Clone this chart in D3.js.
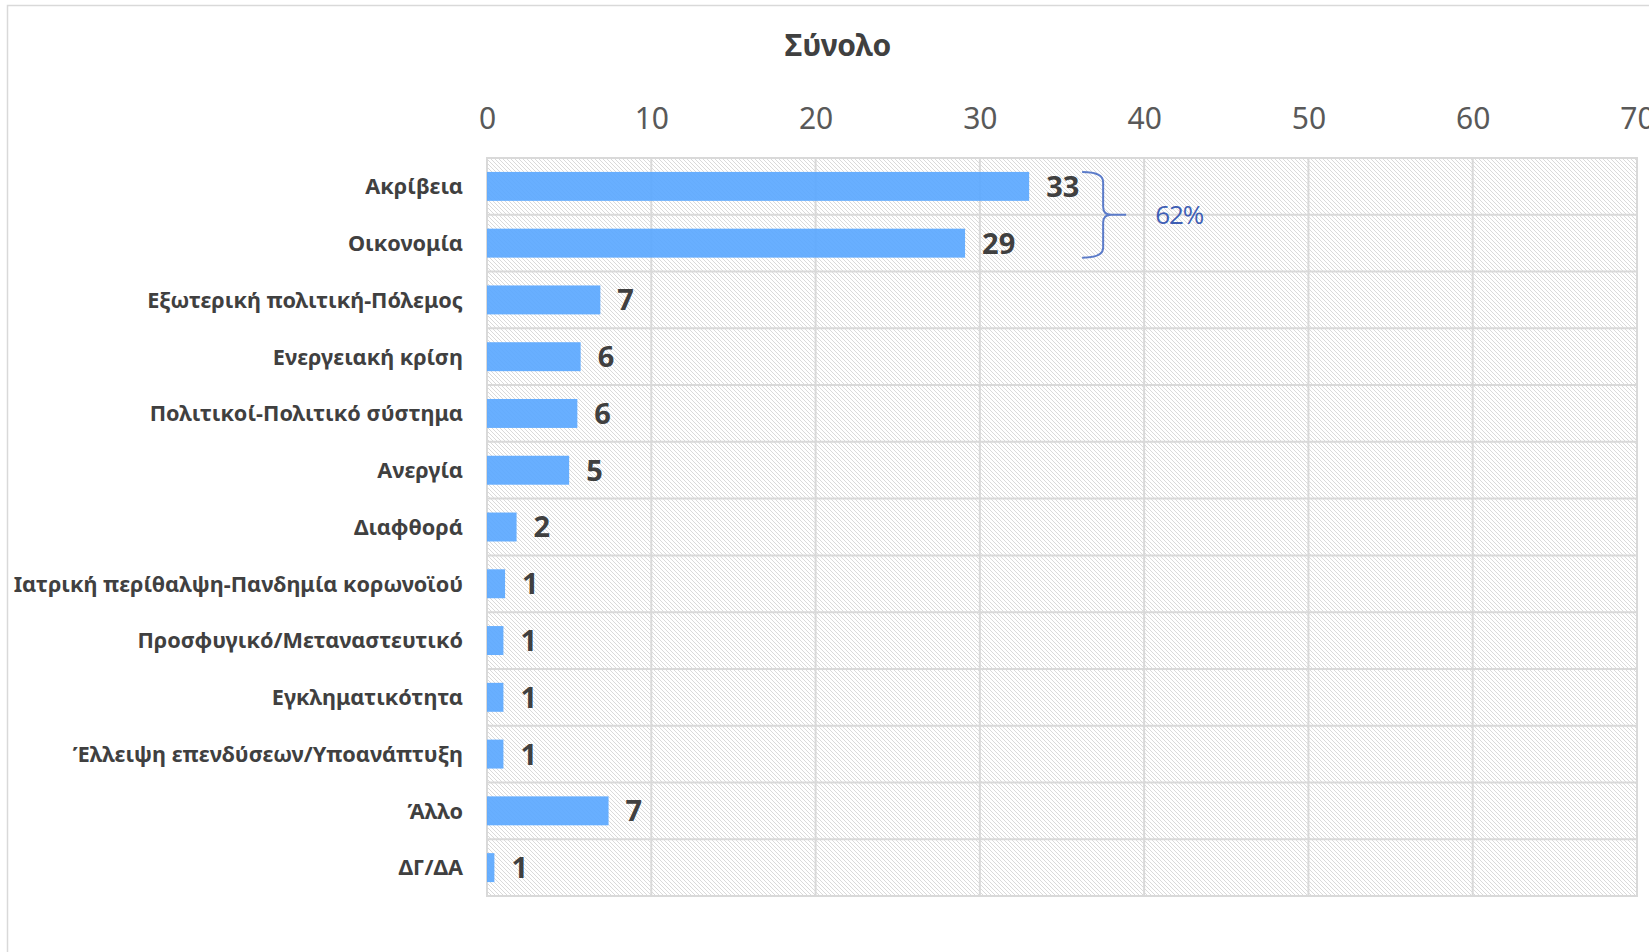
<!DOCTYPE html>
<html><head><meta charset="utf-8">
<script src="https://cdn.jsdelivr.net/npm/d3@7"></script>
<style>html,body{margin:0;padding:0;background:#fff;overflow:hidden}</style>
</head><body>
<svg id="chart" width="1649" height="952"></svg>
<script>
const title = "Σύνολο";
const categories = ["Ακρίβεια","Οικονομία","Εξωτερική πολιτική-Πόλεμος","Ενεργειακή κρίση","Πολιτικοί-Πολιτικό σύστημα","Ανεργία","Διαφθορά","Ιατρική περίθαλψη-Πανδημία κορωνοϊού","Προσφυγικό/Μεταναστευτικό","Εγκληματικότητα","Έλλειψη επενδύσεων/Υποανάπτυξη","Άλλο ","ΔΓ/ΔΑ"];
const values = [33.0, 29.1, 6.9, 5.7, 5.5, 5.0, 1.8, 1.1, 1.0, 1.0, 1.0, 7.4, 0.45];
const valueLabels = ["33","29","7","6","6","5","2","1","1","1","1","7","1"];
const tickValues = [0,10,20,30,40,50,60,70];
const braceRows = [0,1];
const braceLabel = "62%";

(function(){
const svg = d3.select("#chart");
const W = 1649, H = 952;
const pL = 487, pR = 1637, pT = 158, pB = 896;

const defs = svg.append("defs");
const pat = defs.append("pattern").attr("id","hatch").attr("patternUnits","userSpaceOnUse")
  .attr("width",4).attr("height",4);
pat.append("rect").attr("width",4).attr("height",4).attr("fill","#fff");
pat.append("path").attr("d","M-1,-1 L5,5 M-1,3 L1,5 M3,-1 L5,1").attr("stroke","#dadada").attr("stroke-width",1);

svg.append("rect").attr("x",7.5).attr("y",5.5).attr("width",W+20).attr("height",H+20)
  .attr("fill","none").attr("stroke","#d9d9d9").attr("stroke-width",1.5);

const x = d3.scaleLinear().domain([0,70]).range([pL,pR]);
const y = d3.scaleBand().domain(categories).range([pT,pB]).paddingInner(0.49).paddingOuter(0.245);
const step = y.step();

svg.append("rect").attr("x",pL).attr("y",pT).attr("width",pR-pL).attr("height",pB-pT).attr("fill","url(#hatch)");

const g = svg.append("g");
g.selectAll("line.v").data(tickValues).join("line").attr("class","v")
  .attr("x1",d=>x(d)).attr("x2",d=>x(d)).attr("y1",pT).attr("y2",pB)
  .attr("stroke","#d9d9d9").attr("stroke-width",2);
g.selectAll("line.h").data(d3.range(categories.length+1)).join("line").attr("class","h")
  .attr("x1",pL-1).attr("x2",pR+1).attr("y1",i=>pT+i*step).attr("y2",i=>pT+i*step)
  .attr("stroke","#d9d9d9").attr("stroke-width",2);

const axis = d3.axisTop(x).tickValues(tickValues).tickSize(0).tickPadding(0);
const ag = svg.append("g").attr("transform",`translate(0,118)`).call(axis);
ag.select(".domain").remove();
ag.selectAll("text").attr("font-family","Noto Sans").attr("font-size",30).attr("fill","#595959")
  .attr("dy","0.35em");

svg.append("text").attr("x",838).attr("y",56).attr("text-anchor","middle")
  .attr("font-family","Noto Sans").attr("font-weight","bold").attr("font-size",30).attr("fill","#404040").text(title);

svg.append("g").selectAll("rect").data(categories).join("rect")
  .attr("x",x(0)).attr("y",d=>y(d)).attr("height",y.bandwidth())
  .attr("width",(d,i)=>x(values[i])-x(0))
  .attr("fill","#58a6ff").attr("fill-opacity",0.9);

svg.append("g").selectAll("text").data(categories).join("text")
  .attr("x",(d,i)=>x(values[i])+17).attr("y",d=>y(d)+y.bandwidth()/2).attr("dy","0.36em")
  .attr("font-family","Noto Sans").attr("font-weight","bold").attr("font-size",29).attr("fill","#404040")
  .text((d,i)=>valueLabels[i]);

svg.append("g").selectAll("text").data(categories).join("text")
  .attr("x",463).attr("y",d=>y(d)+y.bandwidth()/2).attr("dy","0.36em").attr("text-anchor","end")
  .attr("font-family","Noto Sans").attr("font-weight","bold").attr("font-size",21.7).attr("fill","#404040")
  .text(d=>d);

const b0 = y(categories[braceRows[0]]), b1 = y(categories[braceRows[1]])+y.bandwidth();
const bx = x(values[braceRows[0]]) + 53, bm = (b0+b1)/2, bw = 21;
const brace = `M${bx},${b0} Q${bx+bw},${b0} ${bx+bw},${b0+10} L${bx+bw},${bm-8} Q${bx+bw},${bm} ${bx+bw+8},${bm} L${bx+bw+23},${bm} M${bx+bw+8},${bm} Q${bx+bw},${bm} ${bx+bw},${bm+8} L${bx+bw},${b1-10} Q${bx+bw},${b1} ${bx},${b1}`;
svg.append("path").attr("d",brace).attr("fill","none").attr("stroke","#5b7bc9").attr("stroke-width",2);
svg.append("text").attr("x",bx+73).attr("y",bm).attr("dy","0.36em")
  .attr("font-family","Open Sans").attr("font-size",26).attr("fill","#3f5fb5").attr("letter-spacing","-1").text(braceLabel);
})();
</script>
</body></html>
